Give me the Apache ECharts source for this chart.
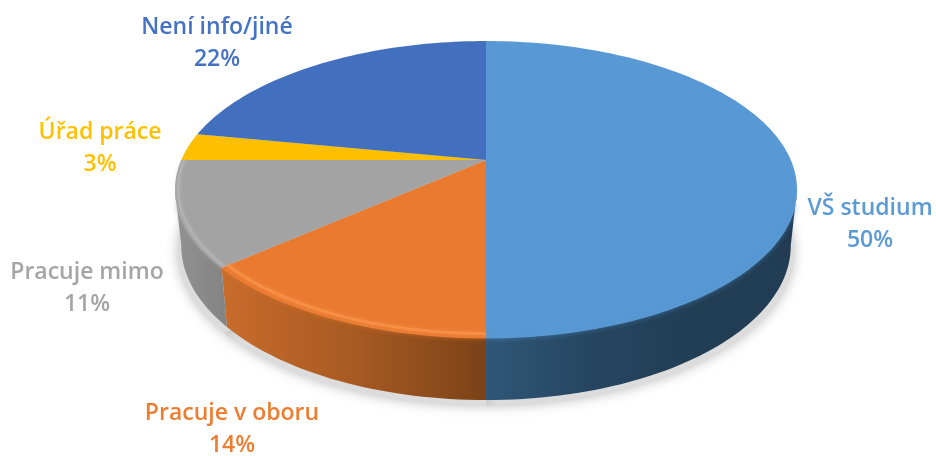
<!DOCTYPE html>
<html><head><meta charset="utf-8">
<style>html,body{margin:0;padding:0;background:#fff}#c{width:936px;height:456px}</style>
<script src="https://cdn.jsdelivr.net/npm/echarts@6/dist/echarts.min.js"></script>
</head><body><div id="c"></div>
<script>
const categories = ['VŠ studium', 'Pracuje v oboru', 'Pracuje mimo', 'Úřad práce', 'Není info/jiné'];
const values = [50, 13.6, 11.4, 3, 22];

const topColors = ['#5898d4', '#ea7a30', '#a3a3a3', '#fdbf00', '#4270bf'];
const textColors = ['#5b9bd5', '#ed7d31', '#a5a5a5', '#ffc000', '#4472c4'];
const wallStops = [['#2f5777', '#264560', '#223e55', '#213c53'], ['#c86c2c', '#a85a22', '#7a4218'], ['#929292', '#838383'], ['#b08600', '#b08600'], ['#2f4f88', '#2f4f88']];
const rimColors = [null, '#fd9a52', '#bababa', null, null];
const rimInset = [1, 0.98, 0.99, 1, 1];
const labelCentres = [[870, 224.5], [232, 429.5], [87, 288.5], [100, 148], [217, 43]];

const cx = 486, cy = 160, A = 304.8, B = 142.6, k = 0.1987;
const drop = 55, sx = 0.98, sy = 1.04;
const total = values.reduce((a, b) => a + b, 0);

function sliceAngles(i) {
  let before = 0;
  for (let j = 0; j < i; j++) before += values[j];
  return [before / total * 2 * Math.PI, (before + values[i]) / total * 2 * Math.PI];
}
function topPoint(t, r) {
  const u = Math.sin(t) * r, v = -Math.cos(t) * r, w = 1 - k * v;
  return [cx + A * u / w, cy + B * v / w];
}
function bottomPoint(t) {
  const u = Math.sin(t), v = -Math.cos(t), w = 1 - k * v;
  return [cx + sx * A * u / w, cy + drop + sy * B * v / w];
}
function sliceThetas(i) {
  const [a, b] = sliceAngles(i), n = Math.max(4, Math.ceil((b - a) * 40)), out = [];
  for (let s = 0; s <= n; s++) out.push(a + (b - a) * s / n);
  return out;
}
function arc(i, fn) { return sliceThetas(i).map(fn); }

function renderShadow(params) {
  const pts = arc(params.dataIndex, t => {
    const p = bottomPoint(t);
    return [cx + (p[0] - cx) * 1.012, p[1] + 6];
  });
  return { type: 'polygon', shape: { points: [[cx, cy + drop], ...pts] },
    style: { fill: '#dcdcdc', shadowBlur: 12, shadowColor: 'rgba(150,150,150,0.6)' } };
}
function renderWall(params) {
  const i = params.dataIndex;
  const front = sliceThetas(i).filter(t => -Math.cos(t) >= k - 0.02);
  if (front.length < 2) return null;
  const stops = wallStops[i];
  const top = front.map(t => topPoint(t, 1)), bottom = front.map(bottomPoint);
  return { type: 'polygon', shape: { points: top.concat(bottom.reverse()) },
    style: { fill: { type: 'linear', x: 0, y: 0, x2: 1, y2: 0,
      colorStops: stops.map((c, s) => ({ offset: s / (stops.length - 1), color: c })) } } };
}
function renderTop(params) {
  const i = params.dataIndex;
  return { type: 'polygon', shape: { points: [[cx, cy], ...arc(i, t => topPoint(t, 1))] }, style: { fill: topColors[i] } };
}
function renderRim(params) {
  const i = params.dataIndex;
  const front = sliceThetas(i).filter(t => -Math.cos(t) > k + 0.08);
  const children = [];
  if (front.length >= 2) {
    children.push({ type: 'polyline', shape: { points: front.map(t => topPoint(t, 0.998)) },
      style: { fill: null, stroke: topColors[i], lineWidth: 2, opacity: 0.8, shadowBlur: 5, shadowColor: topColors[i] } });
  }
  if (rimColors[i]) {
    const lit = sliceThetas(i).filter(t => -Math.cos(t) > 0);
    children.push({ type: 'polyline', shape: { points: lit.map(t => topPoint(t, rimInset[i])) },
      style: { fill: null, stroke: rimColors[i], lineWidth: 3, opacity: 0.55, shadowBlur: 5, shadowColor: rimColors[i] } });
  }
  return { type: 'group', children };
}
function renderLabel(params) {
  const i = params.dataIndex;
  return { type: 'text', x: labelCentres[i][0], y: labelCentres[i][1],
    style: { text: categories[i] + '\n' + Math.round(values[i]) + '%', fill: textColors[i],
      font: '600 23px "Open Sans"', lineHeight: 32, align: 'center', verticalAlign: 'middle' } };
}

const data = values.map(v => [v]);
const base = { type: 'custom', coordinateSystem: 'none', data, silent: true, animation: false, clip: false };
const chart = echarts.init(document.getElementById('c'), null, { renderer: 'canvas' });
chart.setOption({
  backgroundColor: '#ffffff',
  animation: false,
  series: [
    { ...base, name: 'shadow', z: 1, renderItem: renderShadow },
    { ...base, name: 'wall', z: 2, renderItem: renderWall },
    { ...base, name: 'top', z: 3, renderItem: renderTop },
    { ...base, name: 'rim', z: 4, renderItem: renderRim },
    { ...base, name: 'labels', z: 5, renderItem: renderLabel }
  ]
});
</script></body></html>
